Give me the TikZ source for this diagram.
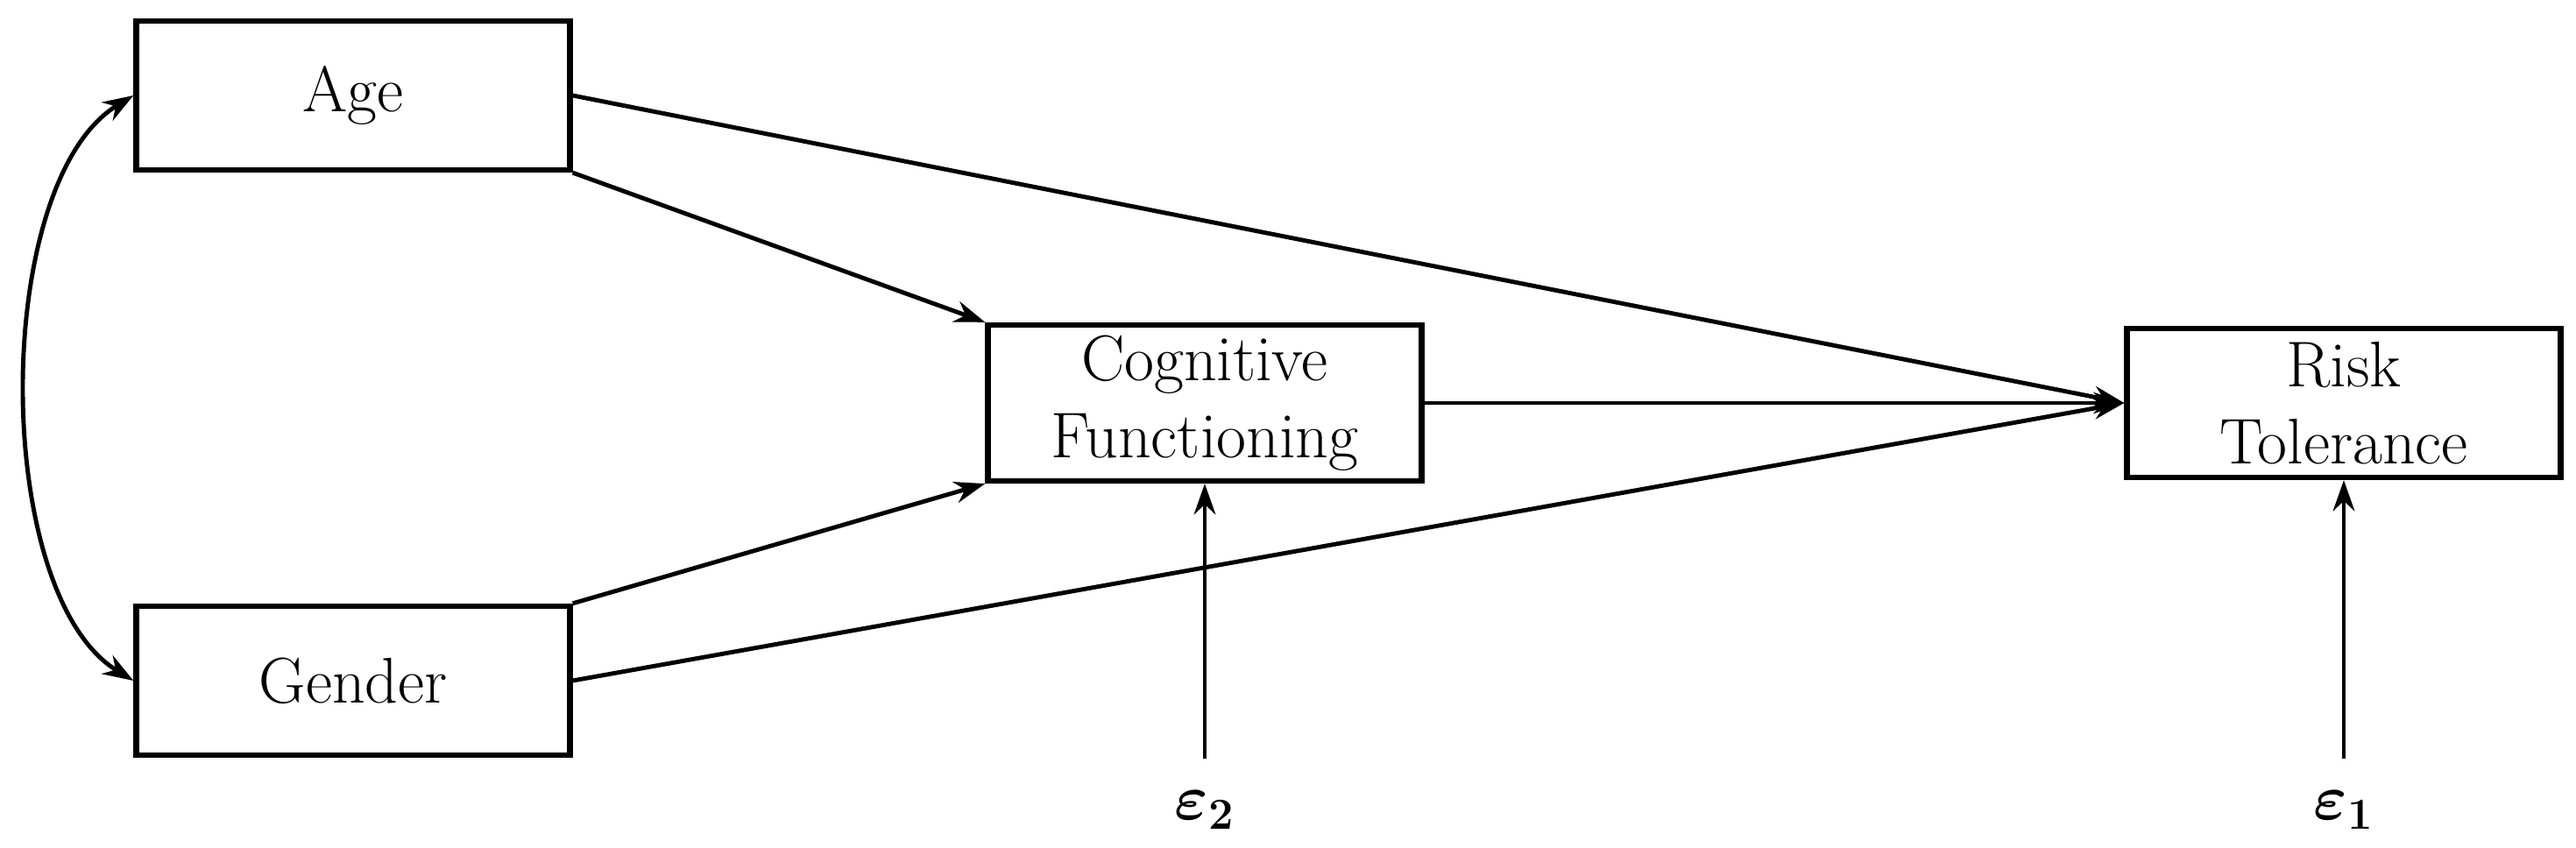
\documentclass[tikz,border=0pt]{standalone}
\usepackage{amsmath,bm}
\usetikzlibrary{positioning,arrows.meta}
\begin{document}
\begin{tikzpicture}[
    var/.style={draw, line width=1.8pt, minimum width=4.95cm, minimum height=1.7cm,
                align=center, font=\fontsize{21}{25}\selectfont},
    path/.style={line width=1.4pt, -{Stealth[length=10pt,width=7pt]}},
    err/.style={font=\fontsize{22}{24}\selectfont}]
    % fixe Bildgroesse
    \useasboundingbox (0,0) rectangle (29.4,9.68);

    % Variablen
    \node[var] (age) at (4.03,8.59) {Age};
    \node[var] (gender) at (4.03,1.91) {Gender};
    \node[var] (cog) at (13.75,5.08) {Cognitive\\Functioning};
    \node[var] (risk) at (26.75,5.08) {Risk\\Tolerance};

    % Fehlerterme
    \node[err] (e2) at (13.75,0.43) {$\bm{\varepsilon_2}$};
    \node[err] (e1) at (26.75,0.43) {$\bm{\varepsilon_1}$};

    % Pfade
    \draw[path] (age.east) -- (risk.west);
    \draw[path] (age.south east) -- (cog.north west);
    \draw[path] (gender.north east) -- (cog.south west);
    \draw[path] (gender.east) -- (risk.west);
    \draw[path] (cog.east) -- (risk.west);
    \draw[path] ([yshift=0.25cm]e2.north) -- (cog.south);
    \draw[path] ([yshift=0.25cm]e1.north) -- (risk.south);

    % Kovarianz
    \draw[line width=1.4pt, {Stealth[length=10pt,width=7pt]}-{Stealth[length=10pt,width=7pt]}]
        (age.west) .. controls (-0.1,7.6) and (-0.1,2.9) .. (gender.west);
\end{tikzpicture}
\end{document}
